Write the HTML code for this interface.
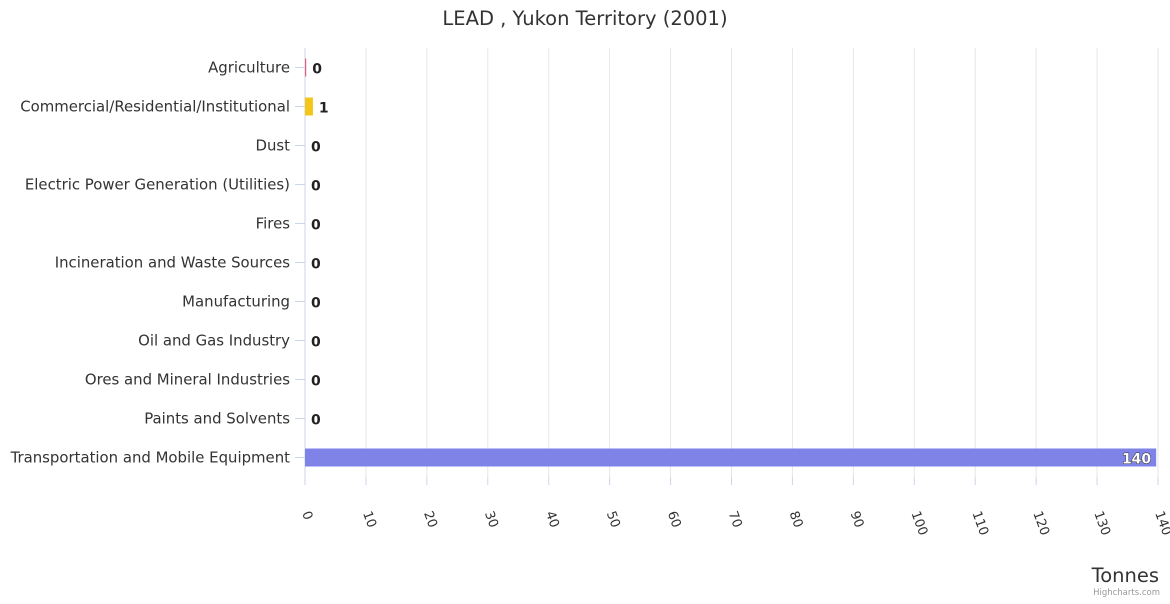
<!DOCTYPE html>
<html><head><meta charset="utf-8"><style>
body{margin:0;background:#fff;font-family:"DejaVu Sans",sans-serif}
svg text{font-family:"DejaVu Sans",sans-serif}
</style></head><body>
<svg id="c" width="1170" height="600">
<text x="585" y="25" text-anchor="middle" font-size="19.5" fill="#333">LEAD , Yukon Territory (2001)</text>
<g id="grid"></g><g id="bars"></g><g id="ylab"></g><g id="xlab"></g>
<text x="1159" y="582" text-anchor="end" font-size="19.5" fill="#333">Tonnes</text>
<text x="1160" y="595" text-anchor="end" font-size="8.5" fill="#999">Highcharts.com</text>
</svg>
<script>
const categories=["Agriculture","Commercial/Residential/Institutional","Dust","Electric Power Generation (Utilities)","Fires","Incineration and Waste Sources","Manufacturing","Oil and Gas Industry","Ores and Mineral Industries","Paints and Solvents","Transportation and Mobile Equipment"];
const values=[0.2,1.3,0,0,0,0,0,0,0,0,139.7];
const labels=["0","1","0","0","0","0","0","0","0","0","140"];
const colors=["#e0607e","#f5c518","#7cb5ec","#434348","#90ed7d","#f7a35c","#8085e9","#f15c80","#e4d354","#2b908f","#7f83e8"];
const ticks=[0,10,20,30,40,50,60,70,80,90,100,110,120,130,140];
const NS="http://www.w3.org/2000/svg";
const X0=305,X1=1158,Y0=48,Y1=477,MAX=140;
const x=v=>X0+v/MAX*(X1-X0);
const band=(Y1-Y0)/categories.length;
const y=i=>Y0+band*i+band/2;
function mk(t,a,p){const e=document.createElementNS(NS,t);for(const k in a)e.setAttribute(k,a[k]);p.appendChild(e);return e;}
const g=document.getElementById('grid'),b=document.getElementById('bars'),yl=document.getElementById('ylab'),xl=document.getElementById('xlab');
ticks.forEach(t=>{
 const l=mk('line',{x1:x(t),x2:x(t),y1:Y0,y2:Y1,stroke:'#e6e6e6'},g);
 
 
 const tk=mk('line',{x1:x(t),x2:x(t),y1:Y1,y2:Y1+8,stroke:'#ccd6eb'},g);
 
 
 const tx=mk('text',{x:x(t)-3,y:Y1+36,'font-size':13,fill:'#333',transform:`rotate(70 ${x(t)-3} ${Y1+36})`},xl);
 tx.textContent=t;
 
 
});
categories.forEach((c,i)=>{
 const cy=y(i);
 const tk=mk('line',{x1:X0-10,x2:X0,y1:cy,y2:cy,stroke:'#ccd6eb'},g);
 
 
 const t=mk('text',{x:X0-15,y:cy+5,'text-anchor':'end','font-size':14.9,fill:'#333'},yl);
 t.textContent=c;
 
 
 const w=x(values[i])-X0;
 const r=mk('rect',{x:X0,y:cy-9,width:w,height:18,fill:colors[i]},b);
 
 
 const inside=w>100;
 const lt=mk('text',{x:inside?X0+w-5:X0+w+6,y:cy+6,'text-anchor':inside?'end':'start','font-size':14,'font-weight':'bold',fill:inside?'#fff':'#222',stroke:inside?'#333':'#fff','stroke-width':inside?1:2,'paint-order':'stroke'},b);
 lt.textContent=labels[i];
 
 
});
const ax=mk('line',{x1:X0,x2:X0,y1:Y0,y2:Y1,stroke:'#ccd6eb'},g);


</script>
</body></html>
